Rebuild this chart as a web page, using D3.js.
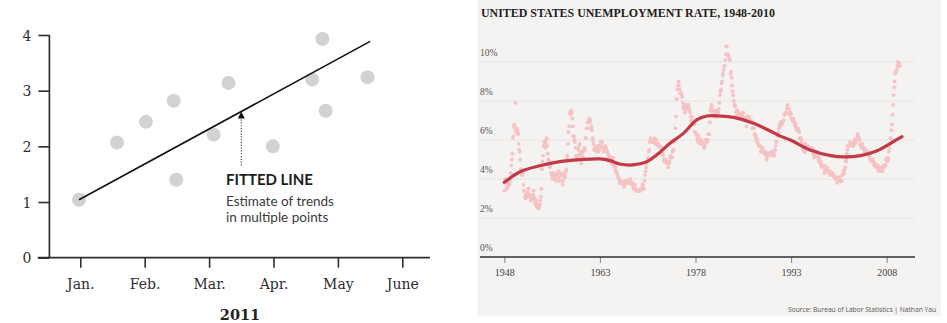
<!DOCTYPE html>
<html>
<head>
<meta charset="utf-8">
<script src="https://cdn.jsdelivr.net/npm/d3@7/dist/d3.min.js"></script>
<style>
  html, body { margin: 0; padding: 0; background: #fff; }
  svg { display: block; }
</style>
</head>
<body>
<svg id="chart" width="947" height="323"></svg>
<script>
// ---- Left panel: scatter with fitted line ----
const monthLabels = ['Jan.', 'Feb.', 'Mar.', 'Apr.', 'May', 'June'];
const scatterMonth = [-0.02, 0.57, 1.02, 1.45, 1.49, 2.07, 2.30, 2.99, 3.60, 3.76, 3.81, 4.46];
const scatterValue = [1.04, 2.07, 2.44, 2.82, 1.40, 2.21, 3.14, 2.00, 3.20, 3.93, 2.64, 3.24];
const fitMonth = [-0.02, 4.50];
const fitValue = [1.04, 3.885];
const leftYTicks = [0, 1, 2, 3, 4];

// ---- Right panel: US unemployment rate, monthly (BLS), 1948 - early 2010 ----
const firstYear = 1948;
const monthlyRate = [
  [3.4, 3.8, 4.0, 3.9, 3.5, 3.6, 3.6, 3.9, 3.8, 3.7, 3.8, 4.0],
  [4.3, 4.7, 5.0, 5.3, 6.1, 6.2, 6.7, 6.8, 6.6, 7.9, 6.4, 6.6],
  [6.5, 6.4, 6.3, 5.8, 5.5, 5.4, 5.0, 4.5, 4.4, 4.2, 4.2, 4.3],
  [3.7, 3.4, 3.4, 3.1, 3.0, 3.2, 3.1, 3.1, 3.3, 3.5, 3.5, 3.1],
  [3.2, 3.1, 2.9, 2.9, 3.0, 3.0, 3.2, 3.4, 3.1, 3.0, 2.8, 2.7],
  [2.9, 2.6, 2.6, 2.7, 2.5, 2.5, 2.6, 2.7, 2.9, 3.1, 3.5, 4.5],
  [4.9, 5.2, 5.7, 5.9, 5.9, 5.6, 5.8, 6.0, 6.1, 5.7, 5.3, 5.0],
  [4.9, 4.7, 4.6, 4.7, 4.3, 4.2, 4.0, 4.2, 4.1, 4.3, 4.2, 4.2],
  [4.0, 3.9, 4.2, 4.0, 4.3, 4.3, 4.4, 4.1, 3.9, 3.9, 4.3, 4.2],
  [4.2, 3.9, 3.7, 3.9, 4.1, 4.3, 4.2, 4.1, 4.4, 4.5, 5.1, 5.2],
  [5.8, 6.4, 6.7, 7.4, 7.4, 7.3, 7.5, 7.4, 7.1, 6.7, 6.2, 6.2],
  [6.0, 5.9, 5.6, 5.2, 5.1, 5.0, 5.1, 5.2, 5.5, 5.7, 5.8, 5.3],
  [5.2, 4.8, 5.4, 5.2, 5.1, 5.4, 5.5, 5.6, 5.5, 6.1, 6.1, 6.6],
  [6.6, 6.9, 6.9, 7.0, 7.1, 6.9, 7.0, 6.6, 6.7, 6.5, 6.1, 6.0],
  [5.8, 5.5, 5.6, 5.6, 5.5, 5.5, 5.4, 5.7, 5.6, 5.4, 5.7, 5.5],
  [5.7, 5.9, 5.7, 5.7, 5.9, 5.6, 5.6, 5.4, 5.5, 5.5, 5.7, 5.5],
  [5.6, 5.4, 5.4, 5.3, 5.1, 5.2, 4.9, 5.0, 5.1, 5.1, 4.8, 5.0],
  [4.9, 5.1, 4.7, 4.8, 4.6, 4.6, 4.4, 4.4, 4.3, 4.2, 4.1, 4.0],
  [4.0, 3.8, 3.8, 3.8, 3.9, 3.8, 3.8, 3.8, 3.7, 3.7, 3.6, 3.8],
  [3.9, 3.8, 3.8, 3.8, 3.8, 3.9, 3.8, 3.8, 3.8, 4.0, 3.9, 3.8],
  [3.7, 3.8, 3.7, 3.5, 3.5, 3.7, 3.7, 3.5, 3.4, 3.4, 3.4, 3.4],
  [3.4, 3.4, 3.4, 3.4, 3.4, 3.5, 3.5, 3.5, 3.7, 3.7, 3.5, 3.5],
  [3.9, 4.2, 4.4, 4.6, 4.8, 4.9, 5.0, 5.1, 5.4, 5.5, 5.9, 6.1],
  [5.9, 5.9, 6.0, 5.9, 5.9, 5.9, 6.0, 6.1, 6.0, 5.8, 6.0, 6.0],
  [5.8, 5.7, 5.8, 5.7, 5.7, 5.7, 5.6, 5.6, 5.5, 5.6, 5.3, 5.2],
  [4.9, 5.0, 4.9, 5.0, 4.9, 4.9, 4.8, 4.8, 4.8, 4.6, 4.8, 4.9],
  [5.1, 5.2, 5.1, 5.1, 5.1, 5.4, 5.5, 5.5, 5.9, 6.0, 6.6, 7.2],
  [8.1, 8.1, 8.6, 8.8, 9.0, 8.8, 8.6, 8.4, 8.4, 8.4, 8.3, 8.2],
  [7.9, 7.7, 7.6, 7.7, 7.4, 7.6, 7.8, 7.8, 7.6, 7.7, 7.8, 7.8],
  [7.5, 7.6, 7.4, 7.2, 7.0, 7.2, 6.9, 7.0, 6.8, 6.8, 6.8, 6.4],
  [6.4, 6.3, 6.3, 6.1, 6.0, 5.9, 6.2, 5.9, 6.0, 5.8, 5.9, 6.0],
  [5.9, 5.9, 5.8, 5.8, 5.6, 5.7, 5.7, 6.0, 5.9, 6.0, 5.9, 6.0],
  [6.3, 6.3, 6.3, 6.9, 7.5, 7.6, 7.8, 7.7, 7.5, 7.5, 7.5, 7.2],
  [7.5, 7.4, 7.4, 7.2, 7.5, 7.5, 7.2, 7.4, 7.6, 7.9, 8.3, 8.5],
  [8.6, 8.9, 9.0, 9.3, 9.4, 9.6, 9.8, 9.8, 10.1, 10.4, 10.8, 10.8],
  [10.4, 10.4, 10.3, 10.2, 10.1, 10.1, 9.4, 9.5, 9.2, 8.8, 8.5, 8.3],
  [8.0, 7.8, 7.8, 7.7, 7.4, 7.2, 7.5, 7.5, 7.3, 7.4, 7.2, 7.3],
  [7.3, 7.2, 7.2, 7.3, 7.2, 7.4, 7.4, 7.1, 7.1, 7.1, 7.0, 7.0],
  [6.7, 7.2, 7.2, 7.1, 7.2, 7.2, 7.0, 6.9, 7.0, 7.0, 6.9, 6.6],
  [6.6, 6.6, 6.6, 6.3, 6.3, 6.2, 6.1, 6.0, 5.9, 6.0, 5.8, 5.7],
  [5.7, 5.7, 5.7, 5.4, 5.6, 5.4, 5.4, 5.6, 5.4, 5.4, 5.3, 5.3],
  [5.4, 5.2, 5.0, 5.2, 5.2, 5.3, 5.2, 5.2, 5.3, 5.3, 5.4, 5.4],
  [5.4, 5.3, 5.2, 5.4, 5.4, 5.2, 5.5, 5.7, 5.9, 5.9, 6.2, 6.3],
  [6.4, 6.6, 6.8, 6.7, 6.9, 6.9, 6.8, 6.9, 6.9, 7.0, 7.0, 7.3],
  [7.3, 7.4, 7.4, 7.4, 7.6, 7.8, 7.7, 7.6, 7.6, 7.3, 7.4, 7.4],
  [7.3, 7.1, 7.0, 7.1, 7.1, 7.0, 6.9, 6.8, 6.7, 6.8, 6.6, 6.5],
  [6.6, 6.6, 6.5, 6.4, 6.1, 6.1, 6.1, 6.0, 5.9, 5.8, 5.6, 5.5],
  [5.6, 5.4, 5.4, 5.8, 5.6, 5.6, 5.7, 5.7, 5.6, 5.5, 5.6, 5.6],
  [5.6, 5.5, 5.5, 5.6, 5.6, 5.3, 5.5, 5.1, 5.2, 5.2, 5.4, 5.4],
  [5.3, 5.2, 5.2, 5.1, 4.9, 5.0, 4.9, 4.8, 4.9, 4.7, 4.6, 4.7],
  [4.6, 4.6, 4.7, 4.3, 4.4, 4.5, 4.5, 4.5, 4.6, 4.5, 4.4, 4.4],
  [4.3, 4.4, 4.2, 4.3, 4.2, 4.3, 4.3, 4.2, 4.2, 4.1, 4.1, 4.0],
  [4.0, 4.1, 4.0, 3.8, 4.0, 4.0, 4.0, 4.1, 3.9, 3.9, 3.9, 3.9],
  [4.2, 4.2, 4.3, 4.4, 4.3, 4.5, 4.6, 4.9, 5.0, 5.3, 5.5, 5.7],
  [5.7, 5.7, 5.7, 5.9, 5.8, 5.8, 5.8, 5.7, 5.7, 5.7, 5.9, 6.0],
  [5.8, 5.9, 5.9, 6.0, 6.1, 6.3, 6.2, 6.1, 6.1, 6.0, 5.8, 5.7],
  [5.7, 5.6, 5.8, 5.6, 5.6, 5.6, 5.5, 5.4, 5.4, 5.5, 5.4, 5.4],
  [5.3, 5.4, 5.2, 5.2, 5.1, 5.0, 5.0, 4.9, 5.0, 5.0, 5.0, 4.9],
  [4.7, 4.8, 4.7, 4.7, 4.6, 4.6, 4.7, 4.7, 4.5, 4.4, 4.5, 4.4],
  [4.6, 4.5, 4.4, 4.5, 4.4, 4.6, 4.7, 4.6, 4.7, 4.7, 4.7, 5.0],
  [5.0, 4.9, 5.1, 5.0, 5.4, 5.6, 5.8, 6.1, 6.1, 6.5, 6.8, 7.3],
  [7.8, 8.3, 8.7, 9.0, 9.4, 9.5, 9.5, 9.6, 9.8, 10.0, 9.9, 9.9],
  [9.8, 9.8]
];
// smoothed trend line
const trendYear = [1948, 1950.5, 1953.6, 1956.7, 1959.9, 1963.0, 1964.6, 1966.1, 1968.2, 1970.4, 1971.9, 1974.0, 1976.1, 1978.2, 1979.8, 1981.9, 1984.0, 1987.1, 1989.4, 1991.3, 1992.9, 1996.0, 1999.2, 2001.3, 2003.9, 2006.5, 2008.6, 2010.4];
const trendRate = [3.83, 4.37, 4.68, 4.89, 4.99, 5.03, 4.94, 4.77, 4.72, 4.89, 5.23, 5.83, 6.34, 7.03, 7.23, 7.23, 7.16, 6.86, 6.51, 6.2, 6.0, 5.49, 5.2, 5.13, 5.2, 5.45, 5.83, 6.17];
const rateTicks = [0, 2, 4, 6, 8, 10];
const yearTicks = [1948, 1963, 1978, 1993, 2008];

(function () {
    'use strict';

    const svg = d3.select('#chart');

    // scale a text's font size so that it spans the width seen in the reference
    function fitWidth(sel, target) {
        const node = sel.node();
        const w = node.getComputedTextLength();
        const size = parseFloat(sel.attr('font-size'));
        if (w > 0) sel.attr('font-size', (size * target / w).toFixed(2));
        return sel;
    }

    /**
     * Left panel
     */
    function drawLeft() {
        const g = svg.append('g');
        const x = d3.scaleLinear().domain([0, 5]).range([80.3, 402.3]);
        const y = d3.scaleLinear().domain([0, 4]).range([257.7, 35]);
        const ink = '#2e2e2e';
        const serif = '"DejaVu Serif", serif';

        // y axis
        const yAxis = g.append('g')
            .attr('transform', `translate(${x(-0.48)},0)`)
            .call(d3.axisLeft(y).tickValues(leftYTicks).tickSize(11).tickPadding(7).tickFormat(d3.format('d')));
        yAxis.select('.domain').remove();
        yAxis.selectAll('line').attr('stroke', ink).attr('stroke-width', 1.6);
        yAxis.selectAll('text')
            .attr('font-family', serif).attr('font-size', 14).attr('fill', ink)
            .attr('dy', '0.36em');
        g.append('line')
            .attr('x1', x(-0.48)).attr('x2', x(-0.48))
            .attr('y1', y(4)).attr('y2', y(0))
            .attr('stroke', ink).attr('stroke-width', 1.7);

        // x axis
        const xAxis = g.append('g')
            .attr('transform', `translate(0,${y(0)})`)
            .call(d3.axisBottom(x).tickValues(d3.range(monthLabels.length)).tickSize(10)
                .tickFormat(i => monthLabels[i]));
        xAxis.select('.domain').remove();
        xAxis.selectAll('line').attr('stroke', ink).attr('stroke-width', 1.6);
        xAxis.selectAll('text')
            .attr('font-family', serif).attr('font-size', 14).attr('fill', ink)
            .attr('y', 31).attr('dy', 0);
        g.append('line')
            .attr('x1', x(-0.66)).attr('x2', x(5.43))
            .attr('y1', y(0)).attr('y2', y(0))
            .attr('stroke', ink).attr('stroke-width', 1.7);

        g.append('text')
            .attr('x', x(2.48)).attr('y', 319.5)
            .attr('text-anchor', 'middle')
            .attr('font-family', serif).attr('font-weight', 'bold').attr('font-size', 14.5)
            .attr('fill', '#222')
            .text('2011');

        // points
        g.append('g').selectAll('circle')
            .data(scatterMonth.map((m, i) => ({ m, v: scatterValue[i] })))
            .join('circle')
            .attr('cx', d => x(d.m))
            .attr('cy', d => y(d.v))
            .attr('r', 7)
            .attr('fill', '#d2d2d2');

        // fitted line
        g.append('path')
            .datum(fitMonth.map((m, i) => [m, fitValue[i]]))
            .attr('d', d3.line().x(d => x(d[0])).y(d => y(d[1])))
            .attr('stroke', '#111').attr('stroke-width', 1.6).attr('fill', 'none');

        // annotation arrow
        const am = 2.5;
        const atLine = fitValue[0] + (am - fitMonth[0]) * (fitValue[1] - fitValue[0]) / (fitMonth[1] - fitMonth[0]);
        const tipY = y(atLine);
        g.append('line')
            .attr('x1', x(am)).attr('x2', x(am))
            .attr('y1', y(1.655)).attr('y2', tipY + 5)
            .attr('stroke', '#333').attr('stroke-width', 1.1)
            .attr('stroke-dasharray', '1.2,1.6');
        g.append('path')
            .attr('d', `M${x(am)},${tipY} l-3.5,7 h7 z`)
            .attr('fill', '#111');

        const t1 = g.append('text')
            .attr('x', 226).attr('y', 185)
            .attr('font-family', 'Lato, "Open Sans", sans-serif').attr('font-weight', 'bold')
            .attr('font-size', 15).attr('fill', '#1d1d1d')
            .text('FITTED LINE');
        fitWidth(t1, 87);
        const t2 = g.append('text')
            .attr('x', 226).attr('y', 205.5)
            .attr('font-family', 'Lato, "Open Sans", sans-serif')
            .attr('font-size', 13).attr('fill', '#3a3a3a')
            .text('Estimate of trends');
        fitWidth(t2, 108);
        g.append('text')
            .attr('x', 226).attr('y', 221.5)
            .attr('font-family', 'Lato, "Open Sans", sans-serif')
            .attr('font-size', t2.attr('font-size')).attr('fill', '#3a3a3a')
            .text('in multiple points');
    }

    /**
     * Right panel
     */
    function drawRight() {
        const g = svg.append('g');
        const serif = '"Liberation Serif", "DejaVu Serif", serif';

        g.append('rect')
            .attr('x', 477).attr('y', 0).attr('width', 464).attr('height', 316)
            .attr('fill', '#f4f3f1');

        const x = d3.scaleLinear().domain([1948, 2008]).range([504.3, 886.7]);
        const y = d3.scaleLinear().domain([0, 10]).range([257, 62]);
        const left = 480, right = 915;

        // title
        const title = g.append('text')
            .attr('x', 481).attr('y', 16.7)
            .attr('font-family', serif).attr('font-weight', 'bold')
            .attr('font-size', 11).attr('fill', '#222')
            .text('UNITED STATES UNEMPLOYMENT RATE, 1948-2010');
        fitWidth(title, 294);

        // gridlines + labels
        const grid = g.append('g');
        grid.selectAll('line')
            .data(rateTicks.filter(d => d > 0))
            .join('line')
            .attr('x1', left).attr('x2', right)
            .attr('y1', d => y(d)).attr('y2', d => y(d))
            .attr('stroke', '#c9c7c4').attr('stroke-width', 0.8)
            .attr('stroke-dasharray', '1,1.5');
        grid.selectAll('text')
            .data(rateTicks)
            .join('text')
            .attr('x', left).attr('y', d => y(d) - 6)
            .attr('font-family', serif).attr('font-size', 9.5).attr('fill', '#555')
            .text(d => d + '%');

        // x axis
        const xAxis = g.append('g')
            .attr('transform', `translate(0,${y(0)})`)
            .call(d3.axisBottom(x).tickValues(yearTicks).tickSize(6).tickFormat(d3.format('d')));
        xAxis.select('.domain').remove();
        xAxis.selectAll('line').attr('stroke', '#777').attr('stroke-width', 0.9);
        xAxis.selectAll('text')
            .attr('font-family', serif).attr('font-size', 10).attr('fill', '#444')
            .attr('y', 19).attr('dy', 0);
        g.append('line')
            .attr('x1', left).attr('x2', right)
            .attr('y1', y(0)).attr('y2', y(0))
            .attr('stroke', '#2f2f2f').attr('stroke-width', 1.5);

        // monthly points
        const points = [];
        monthlyRate.forEach((row, yi) => {
            row.forEach((v, mi) => points.push({ t: firstYear + yi + mi / 12, v }));
        });
        g.append('g').selectAll('circle')
            .data(points)
            .join('circle')
            .attr('cx', d => x(d.t))
            .attr('cy', d => y(d.v))
            .attr('r', 1.9)
            .attr('fill', '#f5c3c5');

        // trend
        g.append('path')
            .datum(trendYear.map((t, i) => [t, trendRate[i]]))
            .attr('d', d3.line().x(d => x(d[0])).y(d => y(d[1])).curve(d3.curveCatmullRom))
            .attr('fill', 'none')
            .attr('stroke', '#c23a45')
            .attr('stroke-width', 3.2)
            .attr('stroke-linecap', 'round');

        const src = g.append('text')
            .attr('x', 936).attr('y', 312)
            .attr('text-anchor', 'end')
            .attr('font-family', '"Open Sans", sans-serif')
            .attr('font-size', 7).attr('fill', '#555')
            .text('Source: Bureau of Labor Statistics | Nathan Yau');
        fitWidth(src, 148);
    }

    drawLeft();
    drawRight();
})();
</script>
</body>
</html>
